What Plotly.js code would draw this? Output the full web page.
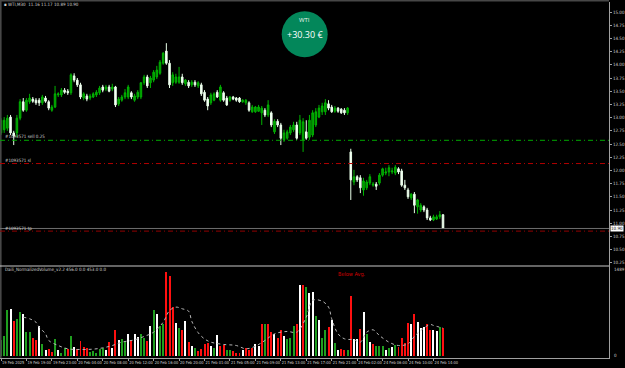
<!DOCTYPE html>
<html><head><meta charset="utf-8">
<script src="https://cdn.plot.ly/plotly-3.0.1.min.js"></script>
<style>html,body{margin:0;padding:0;background:#000;}#c{width:625px;height:368px;}</style>
</head><body><div id="c"></div>
<script>
// ---- DATA ----
const opens = [12.71,12.77,12.80,13.01,12.71,12.71,12.99,13.30,13.14,13.30,13.35,13.33,13.33,13.28,13.37,13.30,13.14,13.20,13.43,13.43,13.52,13.50,13.47,13.79,13.71,13.62,13.37,13.41,13.37,13.39,13.43,13.47,13.58,13.54,13.58,13.54,13.58,13.26,13.33,13.39,13.39,13.47,13.33,13.39,13.39,13.66,13.77,13.66,13.71,13.77,13.84,14.03,14.26,14.03,13.66,13.67,13.67,13.77,13.64,13.67,13.62,13.67,13.60,13.62,13.48,13.35,13.28,13.33,13.48,13.33,13.47,13.37,13.33,13.39,13.37,13.37,13.30,13.28,13.28,13.11,13.11,13.12,13.09,13.14,13.05,13.09,12.73,12.93,12.86,12.58,12.61,12.71,12.77,12.86,12.71,12.58,12.73,12.63,12.67,12.86,13.01,13.11,13.11,13.26,13.20,13.12,13.18,13.16,13.14,13.09,12.35,11.78,11.88,11.86,11.63,11.67,11.76,11.72,11.74,11.76,11.91,11.95,11.97,11.97,11.95,12.03,11.99,11.72,11.63,11.48,11.55,11.31,11.25,11.31,11.25,11.10,11.06,11.08,11.12,11.16];
const highs = [12.99,13.01,13.05,13.05,12.75,13.05,13.35,13.37,13.37,13.45,13.39,13.37,13.37,13.43,13.41,13.33,13.24,13.60,13.48,13.56,13.56,13.54,13.84,13.84,13.75,13.66,13.48,13.45,13.45,13.48,13.52,13.60,13.62,13.62,13.62,13.64,13.60,13.39,13.43,13.54,13.62,13.50,13.45,13.52,13.67,13.81,13.81,13.79,13.90,13.98,14.09,14.24,14.41,14.09,13.86,13.83,13.96,13.83,13.73,13.71,13.71,13.71,13.69,13.66,13.52,13.39,13.47,13.48,13.52,13.62,13.50,13.41,13.41,13.41,13.39,13.39,13.35,13.35,13.31,13.24,13.22,13.24,13.22,13.18,13.33,13.12,12.97,12.97,12.90,12.77,12.77,12.86,12.92,12.92,13.05,12.99,12.95,13.05,13.14,13.18,13.24,13.28,13.35,13.33,13.24,13.22,13.20,13.18,13.18,13.20,12.41,12.01,11.91,11.91,11.86,11.82,11.93,11.78,11.78,11.95,12.05,12.05,12.10,12.05,12.10,12.06,12.03,11.82,11.67,11.57,11.59,11.46,11.38,11.34,11.29,11.14,11.16,11.16,11.23,11.17];
const lows = [12.67,12.71,12.75,12.67,12.48,12.63,12.95,13.11,13.11,13.26,13.28,13.24,13.22,13.24,13.28,13.14,13.11,13.18,13.39,13.39,13.45,13.43,13.43,13.67,13.58,13.35,13.33,13.31,13.33,13.37,13.39,13.43,13.48,13.50,13.48,13.50,13.20,13.22,13.30,13.35,13.35,13.35,13.30,13.35,13.35,13.62,13.56,13.56,13.67,13.73,13.81,14.00,14.00,13.56,13.60,13.64,13.64,13.62,13.60,13.56,13.58,13.58,13.56,13.41,13.30,13.14,13.24,13.31,13.37,13.30,13.30,13.22,13.30,13.33,13.30,13.28,13.28,13.24,13.11,13.09,13.09,13.11,12.86,13.01,13.01,12.82,12.69,12.82,12.48,12.54,12.58,12.67,12.73,12.58,12.67,12.35,12.58,12.58,12.63,12.82,12.99,13.05,13.05,13.14,13.09,13.09,13.09,13.07,13.05,13.05,11.44,11.72,11.78,11.57,11.52,11.63,11.72,11.69,11.63,11.72,11.88,11.91,11.89,11.93,11.91,11.93,11.69,11.63,11.46,11.44,11.19,11.18,11.21,11.21,11.06,11.04,11.04,11.06,11.08,10.89];
const closes = [12.95,12.95,12.99,12.71,12.65,12.99,13.30,13.14,13.33,13.37,13.31,13.28,13.28,13.39,13.31,13.18,13.20,13.45,13.45,13.52,13.48,13.47,13.81,13.71,13.62,13.39,13.45,13.35,13.41,13.45,13.48,13.56,13.52,13.58,13.50,13.58,13.24,13.35,13.39,13.47,13.58,13.39,13.41,13.48,13.66,13.77,13.60,13.75,13.86,13.90,14.05,14.22,14.03,13.62,13.81,13.77,13.77,13.66,13.71,13.60,13.67,13.62,13.66,13.45,13.33,13.22,13.43,13.45,13.39,13.58,13.33,13.24,13.39,13.35,13.33,13.30,13.33,13.33,13.14,13.20,13.20,13.20,13.18,13.05,13.24,12.86,12.93,12.86,12.61,12.71,12.73,12.82,12.86,12.61,12.95,12.92,12.61,12.95,13.09,13.11,13.18,13.22,13.28,13.18,13.11,13.18,13.12,13.09,13.09,13.18,11.82,11.88,11.82,11.67,11.80,11.78,11.88,11.74,11.70,11.91,12.03,11.97,12.05,11.99,12.06,11.97,11.72,11.67,11.50,11.55,11.34,11.44,11.34,11.25,11.10,11.06,11.12,11.12,11.16,10.90];

const volumes = [261,317,749,777,572,605,727,683,383,383,294,250,483,194,84,100,55,278,94,39,127,106,317,139,106,239,139,117,55,67,50,106,127,84,222,133,417,266,278,239,350,266,360,305,350,294,239,494,760,693,483,516,1387,1331,805,538,460,417,566,217,166,127,72,100,184,205,155,127,333,166,178,84,84,67,50,50,94,127,94,117,194,166,516,516,516,388,360,294,417,327,278,294,483,516,1176,1165,1137,1038,1059,650,593,294,427,472,599,205,94,100,84,94,982,278,278,444,716,350,227,184,166,150,150,84,117,139,178,139,294,205,538,516,693,554,460,472,516,427,417,405,472,453];
const volState = ['g','g','g','w','r','g','g','w','g','g','r','r','w','g','w','r','r','g','w','g','g','r','g','w','r','r','r','r','g','g','g','g','g','w','r','w','r','w','g','g','w','r','w','w','g','g','r','w','g','w','g','g','r','r','r','w','g','r','w','r','w','g','r','r','r','r','w','g','w','r','r','g','g','r','r','r','w','r','r','r','w','w','r','g','r','r','w','r','r','w','g','g','g','r','w','r','g','w','w','g','w','g','g','r','w','g','w','r','r','g','r','w','w','r','w','g','w','r','g','g','g','w','g','w','g','r','r','r','r','w','r','w','w','w','r','r','w','w','g','r'];

const avgIdx = [7,9,11,12,14,15,18,21,25,29,32,35,38,42,45,48,51,53,55,57,59,60,62,64,66,70,74,77,80,83,86,90,93,96,98,101,103,104,106,108,111,113,115,117,119,122,125,128,130,132,135,136,139];
const avgVal = [637,611,554,472,360,250,166,111,100,106,127,166,222,261,317,388,554,749,805,777,738,570,380,276,222,184,166,111,155,250,360,400,388,638,916,904,805,611,360,278,261,222,388,427,333,222,166,194,317,417,516,500,456];

const tickIdx = [0,8,16,24,32,40,48,56,64,72,80,88,96,104,112,120,128,136];
const tickLabels = ['19 Feb 2025','19 Feb 19:00','19 Feb 23:00','20 Feb 04:00','20 Feb 08:00','20 Feb 12:00','20 Feb 16:00','20 Feb 20:00','21 Feb 01:00','21 Feb 05:00','21 Feb 09:00','21 Feb 13:00','21 Feb 17:00','21 Feb 21:00','24 Feb 02:00','24 Feb 06:00','24 Feb 10:00','24 Feb 14:00'];

const sellPrice = 12.57, slPrice = 12.13, tpPrice = 10.85, lastPrice = 10.90;
const volMaxLabel = 1489;

// ---- CHART ----
const idx = opens.map((_, i) => i);
const palette = {g:'#1f9f1f', r:'#ff1010', w:'#ffffff'};
const FONT = 'Liberation Sans Narrow, DejaVu Sans Condensed, Liberation Sans, sans-serif';
const txt = '#d0d0d0';
const PH = 358, PW = 609;
const py = px => 1 - px / PH;

const traces = [
  {type:'candlestick', x:idx, open:opens, high:highs, low:lows, close:closes,
   xaxis:'x', yaxis:'y', width:0.55, whiskerwidth:0, hoverinfo:'skip', showlegend:false,
   increasing:{line:{color:'#00b400', width:1}, fillcolor:'#008c00'},
   decreasing:{line:{color:'#e8ffe8', width:1}, fillcolor:'#ffffff'}},
  {type:'bar', x:idx, y:volumes, xaxis:'x', yaxis:'y2', width:0.62,
   marker:{color:volState.map(s => palette[s]), line:{width:0}}, hoverinfo:'skip', showlegend:false},
  {type:'scatter', mode:'lines', x:avgIdx, y:avgVal, xaxis:'x', yaxis:'y2',
   line:{color:'#b4b4b4', width:1, dash:'dot', shape:'spline'}, hoverinfo:'skip', showlegend:false}
];

const dd = '5px,3px,1px,3px';
const hline = (y, color, dash) => ({type:'line', xref:'paper', x0:0, x1:1, yref:'y', y0:y, y1:y,
  line:{color:color, width:1, dash:dash}});

const layout = {
  width:625, height:368, margin:{l:0, r:16, t:0, b:10},
  paper_bgcolor:'#000', plot_bgcolor:'#000', showlegend:false, dragmode:false,
  font:{family:FONT, color:txt, size:5},
  bargap:0,
  xaxis:{anchor:'y2', range:[-0.314, 191.2], showgrid:false, zeroline:false,
    showline:true, linecolor:'#a0a0a0', linewidth:1,
    ticks:'outside', ticklen:2, tickcolor:'#a0a0a0', tickangle:0, automargin:false,
    tickmode:'array', tickvals:tickIdx, ticktext:tickLabels, ticklabelposition:'outside right',
    tickfont:{family:FONT, size:4, color:txt}, rangeslider:{visible:false}, fixedrange:true},
  yaxis:{domain:[py(266), py(2)], range:[10.1894, 15.1894], side:'right', anchor:'x',
    showgrid:false, zeroline:false, showline:true, linecolor:'#a0a0a0', linewidth:1,
    ticks:'outside', ticklen:2, tickcolor:'#a0a0a0', dtick:0.25, tick0:0, tickformat:'.2f',
    tickfont:{family:FONT, size:4.5, color:txt}, fixedrange:true},
  yaxis2:{domain:[0, py(266)], range:[-41.6, 1489.3], side:'right', anchor:'x',
    showgrid:false, zeroline:false, showline:true, linecolor:'#a0a0a0', linewidth:1,
    showticklabels:false, ticks:'', fixedrange:true},
  shapes:[
    {type:'rect', xref:'paper', yref:'paper', x0:0, x1:1, y0:py(1.5), y1:1.002, fillcolor:'#474747', line:{width:0}},
    {type:'rect', xref:'paper', yref:'paper', x0:-0.001, x1:1.6/PW, y0:0, y1:1, fillcolor:'#474747', line:{width:0}},
    {type:'line', xref:'paper', yref:'paper', x0:0, x1:1, y0:py(266), y1:py(266), line:{color:'#c8c8c8', width:1}},
    hline(sellPrice, '#00a800', dd),
    hline(slPrice, '#b00000', dd),
    hline(lastPrice, '#6e6e6e', 'solid'),
    hline(tpPrice, '#900000', dd),
    {type:'circle', xref:'paper', yref:'paper', xsizemode:'pixel', ysizemode:'pixel',
     xanchor:304.7/PW, yanchor:py(34.3), x0:-23, x1:23, y0:-23, y1:23,
     fillcolor:'#03875a', line:{width:0}, layer:'above'}
  ],
  annotations:[
    {xref:'paper', yref:'paper', x:2/PW, y:py(4.2), xanchor:'left', yanchor:'middle', showarrow:false,
     text:'▪ WTI,M30  11.16 11.17 10.89 10.90', font:{family:FONT, size:4.5, color:txt}},
    {xref:'paper', yref:'y', x:4/PW, y:sellPrice, xanchor:'left', yanchor:'bottom', showarrow:false,
     text:'#1093571 sell 0.25', font:{family:FONT, size:4.5, color:txt}, borderpad:0},
    {xref:'paper', yref:'y', x:4/PW, y:slPrice, xanchor:'left', yanchor:'bottom', showarrow:false,
     text:'#1093571 sl', font:{family:FONT, size:4.5, color:txt}, borderpad:0},
    {xref:'paper', yref:'y', x:4/PW, y:lastPrice, xanchor:'left', yanchor:'middle', showarrow:false,
     text:'#1093571 tp', font:{family:FONT, size:4.5, color:txt}, borderpad:0},
    {xref:'paper', yref:'y', x:1, xshift:1, y:lastPrice, xanchor:'left', yanchor:'middle', showarrow:false,
     text:'10.90', bgcolor:'#ffffff', font:{family:FONT, size:4.5, color:'#000000'}, borderpad:0},
    {xref:'paper', yref:'paper', x:3/PW, y:py(270), xanchor:'left', yanchor:'middle', showarrow:false,
     text:'Daili_NormalizedVolume_v2.2 456.0 0.0 453.0 0.0', font:{family:FONT, size:4.5, color:txt}},
    {xref:'paper', yref:'paper', x:352/PW, y:py(274), xanchor:'center', yanchor:'middle', showarrow:false,
     text:'Below Avg.', font:{family:FONT, size:5.5, color:'#d00000'}},
    {xref:'paper', yref:'paper', x:1, xshift:3, y:py(269.5), xanchor:'left', yanchor:'middle', showarrow:false,
     text:String(volMaxLabel), font:{family:FONT, size:4.5, color:txt}},
    {xref:'paper', yref:'paper', x:1, xshift:3, y:py(355.5), xanchor:'left', yanchor:'middle', showarrow:false,
     text:'0', font:{family:FONT, size:4.5, color:txt}},
    {xref:'paper', yref:'paper', x:304.7/PW, y:py(20.5), xanchor:'center', yanchor:'middle', showarrow:false,
     text:'WTI', font:{family:'Open Sans, DejaVu Sans, sans-serif', size:6, color:'#e8f5ee'}},
    {xref:'paper', yref:'paper', x:304.7/PW, y:py(34.5), xanchor:'center', yanchor:'middle', showarrow:false,
     text:'+30.30 €', font:{family:'Open Sans, DejaVu Sans, sans-serif', size:9, color:'#ffffff'}}
  ]
};

Plotly.newPlot('c', traces, layout, {staticPlot:true, displayModeBar:false});
</script></body></html>
